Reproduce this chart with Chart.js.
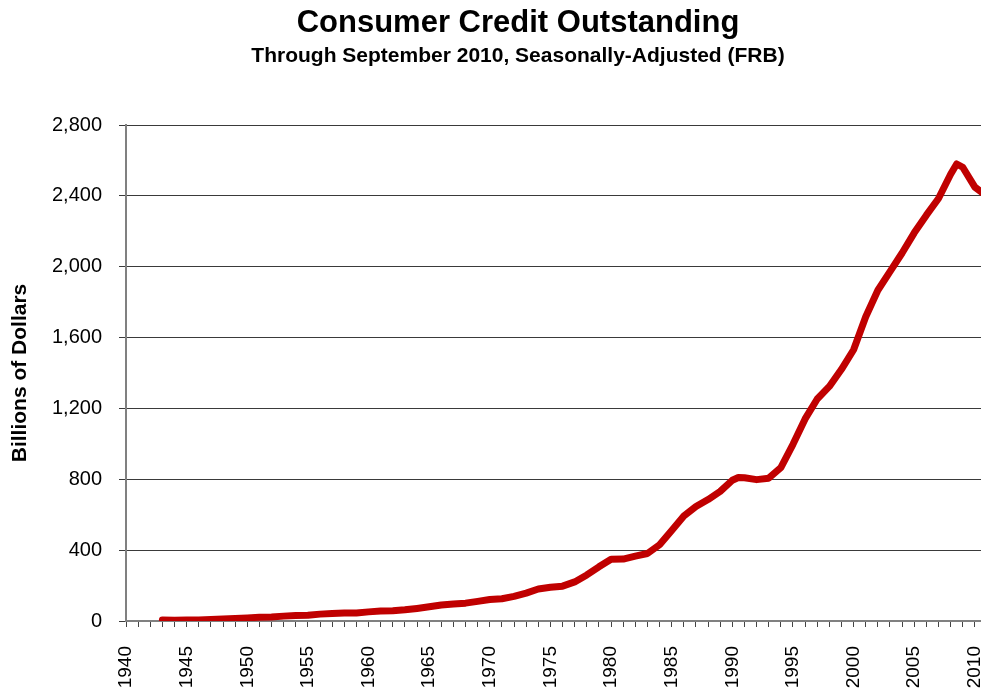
<!DOCTYPE html>
<html>
<head>
<meta charset="utf-8">
<title>Consumer Credit Outstanding</title>
<script src="https://cdn.jsdelivr.net/npm/chart.js@4.4.1/dist/chart.umd.min.js"></script>
<style>
  html, body { margin: 0; padding: 0; background: #fff; overflow: hidden; }
  #wrap { position: relative; width: 1036px; height: 692px; }
</style>
</head>
<body>
<div id="wrap"><canvas id="creditChart" width="1036" height="692"></canvas></div>
<script>
(function () {
  "use strict";

  /* ===== Data (decimal years, billions of dollars) ===== */
  var dates = [
    1943.0, 1944.0, 1945.0, 1946.0, 1947.0, 1948.0, 1949.0, 1950.0,
    1951.0, 1952.0, 1953.0, 1954.0, 1955.0, 1956.0, 1957.0, 1958.0,
    1959.0, 1960.0, 1961.0, 1962.0, 1963.0, 1964.0, 1965.0, 1966.0,
    1967.0, 1968.0, 1969.0, 1970.0, 1971.0, 1972.0, 1973.0, 1974.0,
    1975.0, 1976.0, 1977.0, 1978.0, 1979.0, 1980.0, 1981.0, 1982.0,
    1983.0, 1984.0, 1985.0, 1986.0, 1987.0, 1988.0, 1989.0, 1990.0,
    1990.5, 1991.0, 1992.0, 1993.0, 1994.0, 1995.0, 1996.0, 1997.0,
    1998.0, 1999.0, 2000.0, 2001.0, 2002.0, 2003.0, 2004.0, 2005.0,
    2006.0, 2007.0, 2008.0, 2008.5, 2009.0, 2010.0, 2010.75
  ];
  var credit = [
    6.0, 4.9, 5.1, 5.7, 8.4, 11.6, 14.4, 17.4,
    21.5, 22.7, 27.5, 31.4, 31.9, 38.8, 42.3, 45.0,
    45.1, 51.5, 56.0, 57.7, 63.2, 71.0, 80.3, 90.3,
    96.2, 100.8, 110.8, 121.1, 125.8, 138.7, 157.6, 180.5,
    190.1, 196.6, 220.6, 259.9, 306.1, 348.6, 349.4, 366.6,
    381.1, 430.4, 511.3, 592.4, 646.1, 685.5, 731.5, 794.4,
    810.0, 808.2, 798.0, 806.1, 865.7, 997.3, 1140.7, 1253.4,
    1324.2, 1420.9, 1531.1, 1717.5, 1867.2, 1972.1, 2077.4, 2191.3,
    2291.0, 2384.9, 2521.7, 2580.0, 2561.3, 2449.4, 2410.0
  ];
  var yTicks = [0, 400, 800, 1200, 1600, 2000, 2400, 2800];
  var xLabelEvery = 5;

  /* ===== Style ===== */
  var FONT = "'Liberation Sans', Arial, Helvetica, sans-serif";
  var COLOR_LINE = "#c00000";
  var COLOR_GRID = "#3a3a3a";
  var COLOR_AXIS = "#808080";

  var points = dates.map(function (d, i) { return { x: d, y: credit[i] }; });

  var ctx = document.getElementById("creditChart").getContext("2d");
  new Chart(ctx, {
    type: "line",
    data: {
      datasets: [{
        label: "Consumer Credit",
        data: points,
        borderColor: COLOR_LINE,
        backgroundColor: COLOR_LINE,
        borderWidth: 7,
        borderJoinStyle: "round",
        borderCapStyle: "round",
        pointRadius: 0,
        tension: 0,
        fill: false,
      }],
    },
    options: {
      responsive: false,
      animation: false,
      layout: { padding: 0 },
      plugins: {
        legend: { display: false },
        tooltip: { enabled: false },
        title: {
          display: true,
          text: "Consumer Credit Outstanding",
          color: "#000",
          font: { family: FONT, size: 31, weight: "bold" },
          padding: { top: 5, bottom: 0 },
        },
        subtitle: {
          display: true,
          text: "Through September 2010, Seasonally-Adjusted (FRB)",
          color: "#000",
          font: { family: FONT, size: 21, weight: "bold" },
          padding: { top: 1, bottom: 56.6 },
        },
      },
      scales: {
        x: {
          type: "linear",
          min: 1940,
          max: 2011,
          afterFit: function (scale) { scale.height = 71; },
          border: { display: true, color: COLOR_AXIS, width: 2 },
          grid: { drawOnChartArea: false, drawTicks: true, tickLength: 6, color: "#444" },
          ticks: {
            stepSize: 1,
            autoSkip: false,
            minRotation: 90,
            maxRotation: 90,
            padding: 19,
            color: "#000",
            font: { family: FONT, size: 19 },
            callback: function (v) { return v % xLabelEvery === 0 ? String(v) : ""; },
          },
        },
        y: {
          min: yTicks[0],
          max: yTicks[yTicks.length - 1],
          afterFit: function (scale) { scale.width = 126; },
          afterBuildTicks: function (scale) {
            scale.ticks = yTicks.map(function (v) { return { value: v }; });
          },
          border: { display: true, color: COLOR_AXIS, width: 2 },
          grid: { color: COLOR_GRID, lineWidth: 1, drawTicks: true, tickLength: 7 },
          title: {
            display: true,
            text: "Billions of Dollars",
            color: "#000",
            font: { family: FONT, size: 21, weight: "bold" },
            padding: { top: 7.5, bottom: 0 },
          },
          ticks: {
            padding: 17,
            color: "#000",
            font: { family: FONT, size: 20 },
            callback: function (v) { return Number(v).toLocaleString("en-US"); },
          },
        },
        /* empty spacer on the right so the plot runs past the window edge
           while the titles stay centred on the full canvas */
        spacer: {
          type: "linear",
          position: "right",
          display: true,
          afterFit: function (scale) { scale.width = 49; },
          border: { display: false },
          grid: { display: false, drawTicks: false },
          ticks: { display: false },
        },
      },
    },
  });
})();
</script>
</body>
</html>
